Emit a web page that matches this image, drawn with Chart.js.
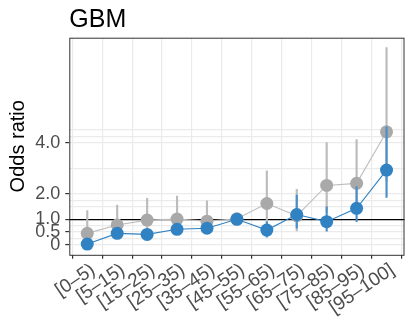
<!DOCTYPE html>
<html>
<head>
<meta charset="utf-8">
<script src="https://cdn.jsdelivr.net/npm/chart.js@4.4.0/dist/chart.umd.min.js"></script>
<style>
  html, body { margin: 0; padding: 0; background: #fff; }
</style>
</head>
<body>
<canvas id="chart" width="411" height="320"></canvas>
<script>
// Age bins on the x axis
const categories = ['[0–5)', '[5–15)', '[15–25)', '[25–35)', '[35–45)', '[45–55)',
                    '[55–65)', '[65–75)', '[75–85)', '[85–95)', '[95–100]'];

// Grey series (odds ratio + interval)
const greyOdds = [0.45, 0.78, 0.97, 1.01, 0.93, 1.02, 1.62, 1.14, 2.33, 2.41, 4.43];
const greyLow  = [0.10, 0.35, 0.50, 0.50, 0.45, 1.02, 0.75, 0.55, 1.30, 1.35, 2.50];
const greyHigh = [1.34, 1.56, 1.82, 1.91, 1.73, 1.02, 2.90, 2.18, 4.01, 4.13, 7.73];

// Blue series (odds ratio + interval)
const blueOdds = [0.03, 0.45, 0.41, 0.61, 0.65, 1.00, 0.58, 1.19, 0.91, 1.43, 2.93];
const blueLow  = [0.00, 0.30, 0.25, 0.45, 0.50, 1.00, 0.30, 0.65, 0.54, 0.91, 1.86];
const blueHigh = [0.25, 0.65, 0.60, 0.80, 0.85, 1.00, 0.90, 1.95, 1.49, 2.28, 4.63];

// Y axis: labelled breaks and all grid lines
const yTickValues = [0, 0.5, 1, 2, 4];
const yTickLabels = ['0', '0.5', '1.0', '2.0', '4.0'];
const yGridValues = [0, 0.25, 0.5, 0.75, 1, 1.5, 1.75, 2, 3, 4, 4.25, 4.5];

const FONT = '"Liberation Sans", Arial, Helvetica, sans-serif';
const BLUE = '#3182c3';
const GREY = '#a9a9a9';

function points(values) {
    return values.map((v, i) => ({ x: i, y: v }));
}

function ranges(low, high) {
    return low.map((lo, i) => ({ x: i, y: [lo, high[i]] }));
}

// Panel border all round + the title above the panel
const panelPlugin = {
    id: 'panel',
    afterDatasetsDraw(chart) {
        const { ctx, chartArea: a } = chart;
        ctx.save();
        ctx.strokeStyle = '#333333';
        ctx.lineWidth = 1;
        ctx.strokeRect(a.left + 0.5, a.top + 0.5, a.right - a.left - 1, a.bottom - a.top);
        ctx.restore();
    },
    afterDraw(chart) {
        const { ctx, chartArea: a } = chart;
        ctx.save();
        ctx.fillStyle = '#000';
        ctx.font = '25px ' + FONT;
        ctx.textBaseline = 'alphabetic';
        ctx.textAlign = 'left';
        ctx.fillText('GBM', a.left, 26.5);
        ctx.restore();
    }
};

const chart = new Chart(document.getElementById('chart'), {
    type: 'line',
    data: {
        datasets: [
            {
                type: 'bar',
                data: ranges(greyLow, greyHigh),
                backgroundColor: '#bcbcbc',
                barThickness: 1.5,
                grouped: false,
                order: 4
            },
            {
                data: points(greyOdds),
                borderColor: '#bdbdbd',
                borderWidth: 1.1,
                pointRadius: 6.5,
                pointBackgroundColor: GREY,
                pointBorderWidth: 0,
                order: 3
            },
            {
                type: 'bar',
                data: ranges(blueLow, blueHigh),
                backgroundColor: '#4a8fc9',
                barThickness: 1.5,
                grouped: false,
                order: 2
            },
            {
                data: points(blueOdds),
                borderColor: BLUE,
                borderWidth: 1.1,
                pointRadius: 6.5,
                pointBackgroundColor: BLUE,
                pointBorderWidth: 0,
                order: 1
            }
        ]
    },
    options: {
        responsive: false,
        animation: false,
        layout: { padding: { top: 37.7, right: 2, left: 0, bottom: 0 } },
        plugins: {
            legend: { display: false },
            tooltip: { enabled: false }
        },
        scales: {
            x: {
                type: 'linear',
                min: -0.6,
                max: 10.6,
                offset: false,
                afterBuildTicks: (scale) => {
                    scale.ticks = categories.map((c, i) => ({ value: i }));
                },
                afterFit: (scale) => {
                    scale.height = 65.2;
                    scale.paddingLeft = 0;
                    scale.paddingRight = 0;
                },
                grid: {
                    color: '#ebebeb',
                    lineWidth: 1.2,
                    tickColor: '#333333',
                    tickLength: 4
                },
                border: { display: false },
                ticks: {
                    autoSkip: false,
                    minRotation: 34,
                    maxRotation: 34,
                    padding: 0,
                    labelOffset: 6,
                    color: '#4d4d4d',
                    font: { family: FONT, size: 19 },
                    callback: (value) => categories[value]
                }
            },
            y: {
                type: 'linear',
                min: -0.39,
                max: 8.12,
                afterBuildTicks: (scale) => {
                    scale.ticks = yGridValues.map(v => ({ value: v }));
                },
                afterFit: (scale) => {
                    scale.width = 69.3;
                },
                grid: {
                    color: (ctx) => ctx.tick && ctx.tick.value === 1 ? '#000000' : '#ebebeb',
                    lineWidth: 1.2,
                    tickColor: (ctx) => yTickValues.includes(ctx.tick.value) ? '#333333' : 'rgba(0,0,0,0)',
                    tickLength: 4
                },
                border: { display: false },
                ticks: {
                    autoSkip: false,
                    padding: 5,
                    color: '#4d4d4d',
                    font: { family: FONT, size: 18, lineHeight: 1 },
                    callback: (value) => {
                        const k = yTickValues.indexOf(value);
                        return k >= 0 ? yTickLabels[k] : '';
                    }
                },
                title: {
                    display: true,
                    text: 'Odds ratio',
                    color: '#000',
                    font: { family: FONT, size: 20, lineHeight: 1 },
                    padding: { top: 8, bottom: 0 }
                }
            }
        }
    },
    plugins: [panelPlugin]
});
</script>
</body>
</html>
